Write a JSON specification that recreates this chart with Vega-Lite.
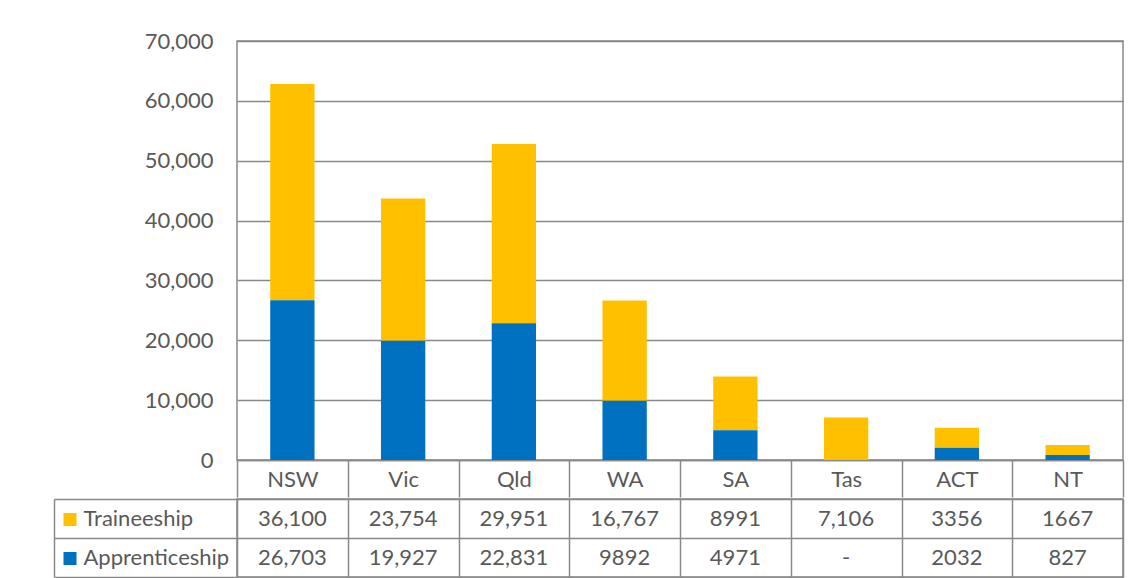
{
  "$schema": "https://vega.github.io/schema/vega-lite/v6.json",
  "padding": {"left": 52, "top": 29, "right": 5, "bottom": 0},
  "background": "white",
  "config": {
    "font": "Lato",
    "view": {"stroke": "#898989", "strokeWidth": 1.5},
    "axis": {"labelFont": "Lato", "labelColor": "#595959", "labelFontSize": 22, "gridColor": "#898989", "gridWidth": 1.5, "gridOpacity": 1, "domainColor": "#898989", "domainWidth": 1.5, "tickColor": "#898989", "tickWidth": 1.5, "title": null}
  },
  "datasets": {
    "d": [
      {"state": "NSW", "type": "Traineeship", "value": 36100, "label": "36,100"},
      {"state": "Vic", "type": "Traineeship", "value": 23754, "label": "23,754"},
      {"state": "Qld", "type": "Traineeship", "value": 29951, "label": "29,951"},
      {"state": "WA", "type": "Traineeship", "value": 16767, "label": "16,767"},
      {"state": "SA", "type": "Traineeship", "value": 8991, "label": "8991"},
      {"state": "Tas", "type": "Traineeship", "value": 7106, "label": "7,106"},
      {"state": "ACT", "type": "Traineeship", "value": 3356, "label": "3356"},
      {"state": "NT", "type": "Traineeship", "value": 1667, "label": "1667"},
      {"state": "NSW", "type": "Apprenticeship", "value": 26703, "label": "26,703"},
      {"state": "Vic", "type": "Apprenticeship", "value": 19927, "label": "19,927"},
      {"state": "Qld", "type": "Apprenticeship", "value": 22831, "label": "22,831"},
      {"state": "WA", "type": "Apprenticeship", "value": 9892, "label": "9892"},
      {"state": "SA", "type": "Apprenticeship", "value": 4971, "label": "4971"},
      {"state": "Tas", "type": "Apprenticeship", "value": null, "label": "-"},
      {"state": "ACT", "type": "Apprenticeship", "value": 2032, "label": "2032"},
      {"state": "NT", "type": "Apprenticeship", "value": 827, "label": "827"}
    ]
  },
  "spacing": -2,
  "vconcat": [
    {
      "width": 886,
      "height": 419,
      "data": {"name": "d"},
      "mark": {"type": "bar", "width": {"band": 0.4}},
      "encoding": {
        "x": {
          "field": "state", "type": "nominal",
          "scale": {"domain": ["NSW", "Vic", "Qld", "WA", "SA", "Tas", "ACT", "NT"], "paddingInner": 0, "paddingOuter": 0},
          "axis": {"labelAngle": 0, "tickBand": "extent", "tickSize": 37, "labelBaseline": "middle", "labelPadding": -18, "grid": false}
        },
        "y": {
          "field": "value", "type": "quantitative", "stack": "zero",
          "scale": {"domain": [0, 70000], "nice": false},
          "axis": {"values": [0, 10000, 20000, 30000, 40000, 50000, 60000, 70000], "format": ",.0f", "ticks": false, "domain": false, "labelPadding": 24, "grid": true}
        },
        "color": {
          "field": "type", "type": "nominal",
          "scale": {"domain": ["Apprenticeship", "Traineeship"], "range": ["#0070C0", "#FFC000"]},
          "legend": null
        },
        "order": {"field": "type", "type": "nominal", "sort": "ascending"}
      }
    },
    {
      "width": 886,
      "height": 78,
      "data": {"name": "d"},
      "resolve": {"scale": {"y": "independent"}, "axis": {"y": "independent"}},
      "layer": [
        {
          "mark": {"type": "text", "fontSize": 22, "color": "#595959", "baseline": "middle", "align": "center"},
          "encoding": {
            "x": {
              "field": "state", "type": "nominal",
              "scale": {"domain": ["NSW", "Vic", "Qld", "WA", "SA", "Tas", "ACT", "NT"], "paddingInner": 0, "paddingOuter": 0},
              "axis": {"orient": "top", "labels": false, "ticks": false, "domain": false, "grid": true, "tickBand": "extent"}
            },
            "y": {
              "field": "type", "type": "nominal",
              "scale": {"domain": ["Traineeship", "Apprenticeship"], "paddingInner": 0, "paddingOuter": 0},
              "axis": {"orient": "left", "offset": 183, "domain": true, "ticks": true, "tickSize": -183, "tickBand": "extent", "labels": false, "grid": true}
            },
            "text": {"field": "label", "type": "nominal"}
          }
        },
        {
          "mark": {"type": "point", "opacity": 0},
          "encoding": {
            "y": {
              "field": "type", "type": "nominal",
              "scale": {"domain": ["Traineeship", "Apprenticeship"], "paddingInner": 0, "paddingOuter": 0},
              "axis": {"orient": "left", "offset": 161, "domain": false, "ticks": true, "tickSize": 13, "tickWidth": 13, "tickCap": "butt",
                "tickColor": {"condition": {"test": "datum.value === 'Traineeship'", "value": "#FFC000"}, "value": "#0070C0"},
                "labelAlign": "left", "labelBaseline": "middle", "labelPadding": -20, "grid": false}
            }
          }
        }
      ]
    }
  ]
}
